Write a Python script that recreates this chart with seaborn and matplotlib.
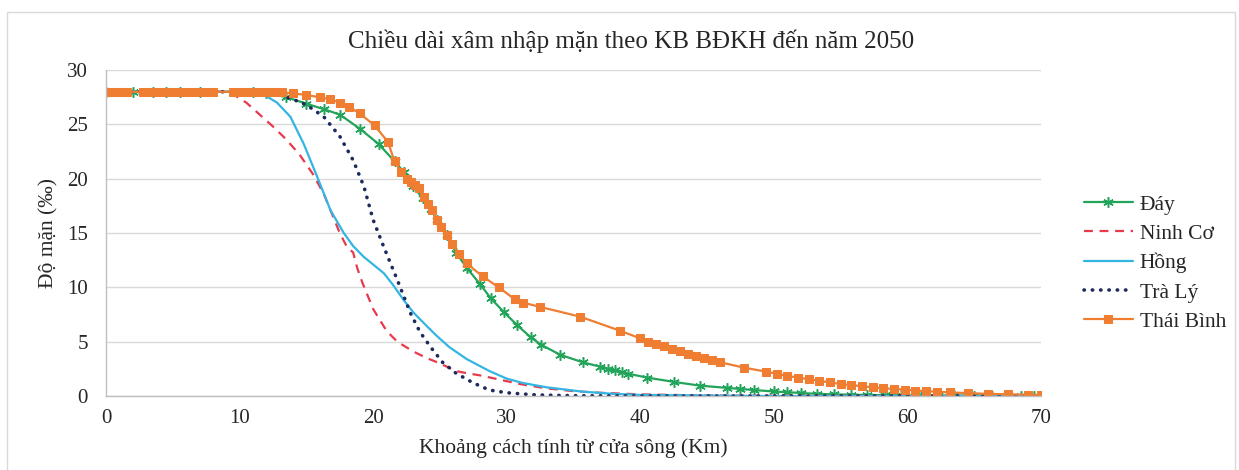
import matplotlib
matplotlib.use("Agg")
import matplotlib.pyplot as plt
import pandas as pd
import seaborn as sns
from matplotlib.patches import Rectangle

# values (km from river mouth, salinity in per mille)
day_km = [0, 2, 3.5, 4.5, 5.5, 7, 11, 12, 13.5, 15, 16.3, 17.5, 19, 20.4, 21.6,
          22.3, 23, 23.7, 24.3, 24.8, 25.5, 26.2, 27, 28, 28.8, 29.8, 30.8, 31.8,
          32.6, 34, 35.7, 37, 37.6, 38.1, 38.6, 39.1, 40.5, 42.5, 44.5, 46.5, 47.5,
          48.5, 50, 51, 52, 53.2, 54.5, 55.8, 57, 58.3, 59.5, 61, 62.3, 63.5, 65,
          66.3, 67.5, 68.5, 69.5]
day_val = [28, 28, 28, 28, 28, 28, 28, 27.9, 27.5, 26.9, 26.4, 25.9, 24.6, 23.2, 21.6,
           20.6, 19.3, 18.2, 17.2, 16.2, 14.8, 13.2, 11.8, 10.3, 9.0, 7.7, 6.5, 5.4,
           4.7, 3.8, 3.1, 2.7, 2.5, 2.35, 2.2, 2.05, 1.7, 1.3, 0.95, 0.75, 0.65,
           0.55, 0.42, 0.35, 0.28, 0.2, 0.15, 0.12, 0.1, 0.08, 0.07, 0.06, 0.05, 0.05, 0.04,
           0.04, 0.03, 0.03, 0.03]

ninhco_km = [0, 5, 8.8, 9.6, 10.5, 11.5, 12.5, 13.5, 14.5, 15.5, 16.3, 16.8, 17.5, 18.0,
             18.5, 18.8, 19.2, 20, 21, 21.8, 23, 24, 25, 26.2, 27, 28, 29.5, 31, 33, 35,
             37, 40, 45, 50, 60, 70]
ninhco_val = [28, 28, 28, 27.7, 27.0, 25.9, 24.8, 23.6, 22.2, 20.4, 18.6, 17.1, 15.0, 13.8,
              13.2, 11.8, 10.4, 8.0, 6.0, 5.0, 4.1, 3.5, 3.0, 2.3, 2.1, 1.9, 1.5, 1.1, 0.7,
              0.45, 0.3, 0.15, 0.05, 0.02, 0, 0]

hong_km = [0, 10, 11, 12, 12.8, 13.8, 14.8, 15.8, 16.8, 17.8, 18.5, 19.3, 20.8, 21.5,
           22.3, 23.0, 23.8, 24.7, 25.7, 27.0, 28.7, 30.0, 31.2, 33, 35.7, 38, 40, 45,
           50, 70]
hong_val = [28, 28, 27.9, 27.6, 27.0, 25.7, 23.2, 20.2, 17.1, 15.0, 13.8, 12.8, 11.3, 10.2,
            8.8, 7.7, 6.7, 5.6, 4.5, 3.4, 2.3, 1.6, 1.2, 0.8, 0.4, 0.2, 0.1, 0.05,
            0, 0]

traly_km = [0, 11, 12, 13, 14, 15, 16.3, 17.5, 18.5, 19.3, 20, 20.8, 21.8, 22.8, 23.5,
            24.3, 25.2, 26.2, 27.5, 28.7, 30, 32.2, 35, 40, 70]
traly_val = [28, 28, 27.9, 27.7, 27.3, 26.8, 25.7, 23.9, 21.7, 19.3, 16.2, 13.7, 10.7, 7.6, 5.9,
             4.5, 3.1, 2.1, 1.2, 0.55, 0.3, 0.1, 0.03, 0, 0]

thaibinh_km = [0, 0.4, 0.8, 1.2, 1.6, 2.8, 3.2, 3.6, 4.0, 4.4, 4.8, 5.2, 5.8, 6.2, 6.8,
               7.4, 8.0, 9.5, 10.2, 10.8, 11.4, 12.0, 12.6, 13.2, 14.0, 15.0, 16.0, 16.8,
               17.5, 18.2, 19.0, 20.1, 21.1, 21.6, 22.1, 22.5, 22.8, 23.1, 23.4, 23.8,
               24.1, 24.4, 24.8, 25.1, 25.5, 25.9, 26.4, 27.0, 28.2, 29.4, 30.6, 31.2,
               32.5, 35.5, 38.5, 40.0, 40.6, 41.2, 41.8, 42.4, 43.0, 43.6, 44.2, 44.8,
               45.4, 46.0, 47.8, 49.4, 50.2, 51.0, 51.8, 52.6, 53.4, 54.2, 55.0, 55.8,
               56.6, 57.4, 58.2, 59.0, 59.8, 60.6, 61.4, 62.2, 63.2, 64.5, 66.0, 67.5,
               69.0, 70.0]
thaibinh_val = [28, 28, 28, 28, 28, 28, 28, 28, 28, 28, 28, 28, 28, 28, 28,
                28, 28, 28, 28, 28, 28, 28, 28, 27.95, 27.85, 27.7, 27.5, 27.3,
                27.0, 26.6, 26.0, 24.9, 23.4, 21.6, 20.6, 20.0, 19.7, 19.4, 19.1, 18.3,
                17.7, 17.1, 16.2, 15.6, 14.8, 14.0, 13.1, 12.2, 11.0, 10.0, 8.9, 8.6,
                8.2, 7.3, 6.0, 5.3, 5.0, 4.8, 4.6, 4.35, 4.1, 3.9, 3.7, 3.5,
                3.3, 3.1, 2.6, 2.25, 2.05, 1.85, 1.7, 1.55, 1.4, 1.25, 1.1, 1.0,
                0.9, 0.8, 0.72, 0.65, 0.58, 0.5, 0.45, 0.4, 0.33, 0.27, 0.2, 0.16,
                0.12, 0.1]

series_names = ["Đáy", "Ninh Cơ", "Hồng", "Trà Lý", "Thái Bình"]
title_text = "Chiều dài xâm nhập mặn theo KB BĐKH đến năm 2050"
xlabel_text = "Khoảng cách tính từ cửa sông (Km)"
ylabel_text = "Độ mặn (‰)"
x_ticks = [0, 10, 20, 30, 40, 50, 60, 70]
y_ticks = [0, 5, 10, 15, 20, 25, 30]

sns.set_style("white")
plt.rcParams["font.family"] = ["Liberation Serif", "DejaVu Serif"]

series = [
    (day_km, day_val, dict(color="#22a45a", linestyle="-", lw=1.6,
                           marker=(6, 2, 0), markersize=7.5, markeredgewidth=1.1,
                           markeredgecolor="#22a45a")),
    (ninhco_km, ninhco_val, dict(color="#e8394d", linestyle=(0, (4, 3)), lw=1.6)),
    (hong_km, hong_val, dict(color="#33b5e2", linestyle="-", lw=1.6)),
    (traly_km, traly_val, dict(color="#1e2a5e", linestyle=(0, (0.1, 2.2)), lw=2.6,
                               dash_capstyle="round")),
    (thaibinh_km, thaibinh_val, dict(color="#ef7d32", linestyle="-", lw=1.6,
                                     marker="s", markersize=5.5,
                                     markeredgecolor="#ef7d32")),
]

fig = plt.figure(figsize=(12.39, 4.70), dpi=100)
ax = fig.add_axes([0.0856, 0.1574, 0.7546, 0.6936])

for name, (km, val, style) in zip(series_names, series):
    assert len(km) == len(val), name
    df = pd.DataFrame({"km": km, "salinity": val})
    sns.lineplot(data=df, x="km", y="salinity", ax=ax, sort=False,
                 estimator=None, label=name, **style)

ax.set_xlim(0, 70)
ax.set_ylim(0, 30)
ax.set_xticks(x_ticks)
ax.set_yticks(y_ticks)
ax.grid(axis="y", color="#d9d9d9", lw=1)
ax.set_axisbelow(True)
for side in ["top", "right"]:
    ax.spines[side].set_visible(False)
for side in ["left", "bottom"]:
    ax.spines[side].set_color("#bfbfbf")
    ax.spines[side].set_linewidth(1)
ax.tick_params(axis="both", length=0, labelsize=15, colors="#262626")
ax.tick_params(axis="y", pad=13)
ax.tick_params(axis="x", pad=9)
ax.set_xlabel(xlabel_text, fontsize=15.5, color="#262626", labelpad=8)
ax.set_ylabel(ylabel_text, fontsize=15.5, color="#262626", labelpad=6)

fig.text(0.509, 0.913, title_text, ha="center", va="center", fontsize=18,
         color="#262626")

ax.legend(loc="center left", bbox_to_anchor=(0.859, 0.44),
          bbox_transform=fig.transFigure, frameon=False, fontsize=15.5,
          handlelength=2.3, handletextpad=0.3, labelspacing=0.42)

# light border of the chart area
fig.patches.append(Rectangle((7 / 1239, -0.01), 1228 / 1239, 0.985,
                             transform=fig.transFigure, fill=False,
                             edgecolor="#d9d9d9", lw=1))

fig.savefig("out.png", dpi=100)
